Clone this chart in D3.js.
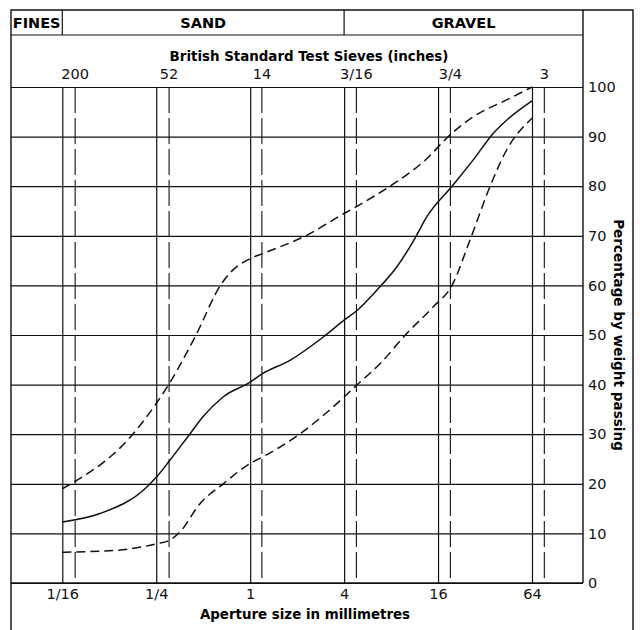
<!DOCTYPE html>
<html>
<head>
<meta charset="utf-8">
<script src="https://cdn.jsdelivr.net/npm/d3@7"></script>
<style>
  body { margin: 0; background: #fff; }
  svg { display: block; font-family: "DejaVu Sans", "Liberation Sans", sans-serif; }
  .grid line { stroke: #111; stroke-width: 1.2; }
  .curve { fill: none; stroke: #111; stroke-width: 1.5; }
</style>
</head>
<body>
<svg id="chart"></svg>
<script>
// aperture grid (mm) shown along the bottom
const apertureMm = [1 / 16, 1 / 4, 1, 4, 16, 64];
const apertureLabels = ['1/16', '1/4', '1', '4', '16', '64'];

// British Standard test sieves, with their aperture in mm
const sieveLabels = ['200', '52', '14', '3/16', '3/4', '3'];
const sieveMm = [0.075, 0.300, 1.18, 4.76, 19.05, 76.2];

// soil zones across the top: FINES | SAND | GRAVEL
const zoneNames = ['FINES', 'SAND', 'GRAVEL'];
const zoneBreaksMm = [1 / 16, 4];

const pctTicks = [0, 10, 20, 30, 40, 50, 60, 70, 80, 90, 100];

// grading envelope: upper limit (dashed)
const upperMm = [0.0625, 0.178, 0.25, 0.303, 0.443, 0.657, 0.742, 1.0, 1.2, 2.3, 4.0, 4.86, 7.87, 12.87, 19.66, 26.9, 44, 64];
const upperPct = [19.0, 30.1, 36.2, 40.2, 49.6, 60.4, 62.5, 65.4, 66.4, 70.1, 74.5, 76.0, 80.0, 84.9, 90.7, 94.0, 97.4, 100];

// typical grading (solid)
const middleMm = [0.0625, 0.109, 0.217, 0.25, 0.305, 0.412, 0.498, 0.67, 1.0, 1.2, 1.8, 2.94, 4.0, 4.86, 6.47, 8.69, 11.38, 13.53, 19.66, 26.9, 36.2, 44, 64];
const middlePct = [12.3, 14.0, 19.3, 21.3, 24.7, 30.1, 33.5, 37.5, 40.5, 42.2, 44.9, 49.6, 53.0, 55.0, 59.0, 63.7, 69.5, 73.8, 80.0, 85.3, 90.7, 93.3, 97.2];

// lower limit (dashed)
const lowerMm = [0.0625, 0.14, 0.25, 0.303, 0.355, 0.477, 0.672, 1.0, 1.2, 2.09, 4.0, 4.86, 6.79, 10.07, 14.92, 19.66, 25.6, 34.4, 44, 64];
const lowerPct = [6.2, 6.6, 7.9, 8.6, 10.3, 16.0, 20.0, 24.1, 25.4, 30.1, 37.5, 40.0, 44.2, 50.3, 55.7, 60.0, 69.1, 79.9, 87.3, 93.7];

const width = 640;
const height = 630;
const frame = { left: 11, top: 10, right: 633 };
const plot = { left: 11, right: 583, top: 87, bottom: 583 };
const headerBottom = 35;

const svg = d3.select('#chart')
  .attr('width', width)
  .attr('height', height);

const xScale = d3.scaleLog()
  .base(2)
  .domain([Math.pow(2, -5.092), Math.pow(2, 7.086)])
  .range([plot.left, plot.right]);

const yScale = d3.scaleLinear()
  .domain([0, 100])
  .range([plot.bottom, plot.top]);

// outer frame (open at the bottom, cut by the page edge)
svg.append('path')
  .attr('d', `M${frame.left},${height} V${frame.top} H${frame.right} V${height}`)
  .attr('fill', 'none')
  .attr('stroke', '#111')
  .attr('stroke-width', 1.4);

// right column divider
svg.append('line')
  .attr('x1', plot.right).attr('x2', plot.right)
  .attr('y1', frame.top).attr('y2', plot.bottom)
  .attr('stroke', '#111').attr('stroke-width', 1.4);

// zone header
svg.append('line')
  .attr('x1', plot.left).attr('x2', plot.right)
  .attr('y1', headerBottom).attr('y2', headerBottom)
  .attr('stroke', '#111').attr('stroke-width', 1.2);

svg.selectAll('.zone-div')
  .data(zoneBreaksMm)
  .enter()
  .append('line')
  .attr('class', 'zone-div')
  .attr('x1', (d) => xScale(d)).attr('x2', (d) => xScale(d))
  .attr('y1', frame.top).attr('y2', headerBottom)
  .attr('stroke', '#111').attr('stroke-width', 1.2);

const zoneEdges = [plot.left, ...zoneBreaksMm.map((d) => xScale(d)), plot.right];
svg.selectAll('.zone-label')
  .data(zoneNames)
  .enter()
  .append('text')
  .attr('class', 'zone-label')
  .attr('x', (d, i) => (zoneEdges[i] + zoneEdges[i + 1]) / 2)
  .attr('y', 27.5)
  .attr('text-anchor', 'middle')
  .style('font-weight', 'bold')
  .style('font-size', '14.5px')
  .text((d) => d);

svg.append('text')
  .attr('x', (plot.left + plot.right) / 2 + 12)
  .attr('y', 60.5)
  .attr('text-anchor', 'middle')
  .style('font-weight', 'bold')
  .style('font-size', '13.4px')
  .text('British Standard Test Sieves (inches)');

svg.append('text')
  .attr('x', (plot.left + plot.right) / 2 + 8)
  .attr('y', 619)
  .attr('text-anchor', 'middle')
  .style('font-weight', 'bold')
  .style('font-size', '13.4px')
  .text('Aperture size in millimetres');

// horizontal grid + right axis
const yAxis = d3.axisRight(yScale)
  .tickValues(pctTicks)
  .tickSize(-(plot.right - plot.left))
  .tickPadding(5);

const yG = svg.append('g')
  .attr('class', 'grid')
  .attr('transform', `translate(${plot.right},0)`)
  .call(yAxis);
yG.select('.domain').remove();
yG.selectAll('text')
  .attr('fill', '#111')
  .style('font-size', '14.5px')
  .style('font-family', '"DejaVu Sans", sans-serif');

// vertical aperture lines with bottom labels
const xAxis = d3.axisBottom(xScale)
  .tickValues(apertureMm)
  .tickFormat((d, i) => apertureLabels[i])
  .tickSize(-(plot.bottom - plot.top))
  .tickPadding(6);

const xG = svg.append('g')
  .attr('class', 'grid')
  .attr('transform', `translate(0,${plot.bottom})`)
  .call(xAxis);
xG.select('.domain').remove();
xG.selectAll('text')
  .attr('fill', '#111')
  .style('font-size', '14.5px')
  .style('font-family', '"DejaVu Sans", sans-serif');

// dashed sieve lines with top labels
const sieveAxis = d3.axisTop(xScale)
  .tickValues(sieveMm)
  .tickFormat((d, i) => sieveLabels[i])
  .tickSize(-(plot.bottom - plot.top))
  .tickPadding(8);

const sG = svg.append('g')
  .attr('class', 'grid')
  .attr('transform', `translate(0,${plot.top})`)
  .call(sieveAxis);
sG.select('.domain').remove();
sG.selectAll('line').attr('stroke-dasharray', '26,5').style('stroke-width', 1.1);
sG.selectAll('text')
  .attr('fill', '#111')
  .style('font-size', '14.5px')
  .style('font-family', '"DejaVu Sans", sans-serif');

// plot bottom border line
svg.append('line')
  .attr('x1', plot.left).attr('x2', plot.right)
  .attr('y1', plot.bottom).attr('y2', plot.bottom)
  .attr('stroke', '#111').attr('stroke-width', 1.4);

svg.append('text')
  .attr('transform', `translate(614,${(plot.top + plot.bottom) / 2}) rotate(90)`)
  .attr('text-anchor', 'middle')
  .style('font-weight', 'bold')
  .style('font-size', '13.6px')
  .text('Percentage by weight passing');

const line = d3.line()
  .x((d) => xScale(d[0]))
  .y((d) => yScale(d[1]))
  .curve(d3.curveMonotoneX);

const series = [
  { mm: upperMm, pct: upperPct, dash: '9,5' },
  { mm: middleMm, pct: middlePct, dash: null },
  { mm: lowerMm, pct: lowerPct, dash: '9,5' }
];

svg.selectAll('.curve')
  .data(series)
  .enter()
  .append('path')
  .attr('class', 'curve')
  .attr('d', (s) => line(s.mm.map((m, i) => [m, s.pct[i]])))
  .attr('stroke-dasharray', (s) => s.dash);
</script>
</body>
</html>
